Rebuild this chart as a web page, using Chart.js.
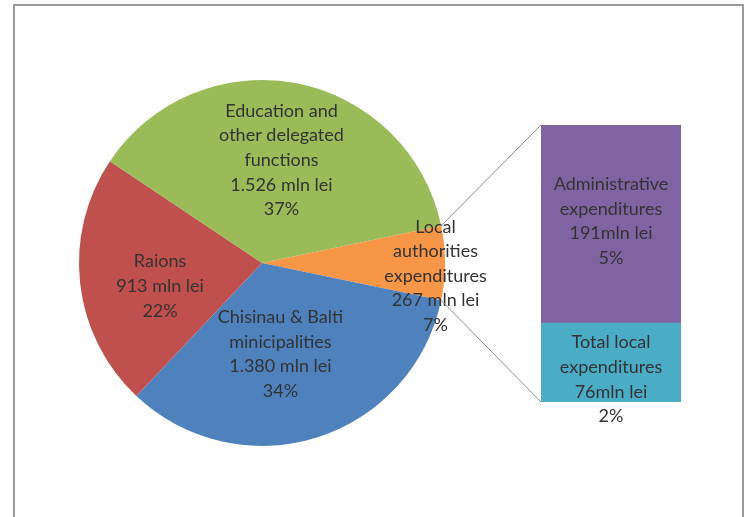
<!DOCTYPE html>
<html>
<head>
<meta charset="utf-8">
<script src="https://cdn.jsdelivr.net/npm/chart.js@4.4.1/dist/chart.umd.min.js"></script>
<style>
  html, body { margin: 0; padding: 0; background: #fff; overflow: hidden; }
  #wrap { position: relative; width: 749px; height: 517px; }
  #frame { position: absolute; left: 13px; top: 4px; width: 731px; height: 560px;
           border: 2px solid #9a9a9a; box-sizing: border-box; }
  canvas { position: absolute; left: 0; top: 0; }
</style>
</head>
<body>
<div id="wrap">
  <div id="frame"></div>
  <canvas id="pie" width="749" height="517"></canvas>
  <canvas id="bar" width="749" height="517"></canvas>
</div>
<script>
// Pie slices, clockwise starting with the slice that is broken out into the bar
const pieCategories = [
  ['Local', 'authorities', 'expenditures'],
  ['Chisinau & Balti', 'minicipalities'],
  ['Raions'],
  ['Education and', 'other delegated', 'functions']
];
const pieValues = [267, 1380, 913, 1526];           // mln lei
const pieColors = ['#F79646', '#4F81BD', '#C0504D', '#9BBB59'];

// Breakdown of the local authorities slice (bottom segment first)
const barCategories = [
  ['Total local', 'expenditures'],
  ['Administrative', 'expenditures']
];
const barValues = [76, 191];                       // mln lei
const barColors = ['#4BACC6', '#8064A2'];

// Label placement relative to each mark's centre (px)
const pieLabelShift = [{dx: 82, dy: 13}, {dx: -9, dy: 4}, {dx: -11, dy: 13}, {dx: 2, dy: -13}];
const barLabelShift = [{dx: 0, dy: 17}, {dx: 0, dy: -3}];

const FONT = '18px Lato, "Open Sans", sans-serif';
const TEXT = '#333333';
const LINE_H = 24.6;

const grandTotal = pieValues.reduce((a, b) => a + b, 0);
const pct = v => Math.round(v / grandTotal * 100) + '%';
const thousands = v => String(v).replace(/\B(?=(\d{3})+(?!\d))/g, '.');

function drawBlock(ctx, lines, x, y) {
  ctx.save();
  ctx.font = FONT;
  ctx.fillStyle = TEXT;
  ctx.textAlign = 'center';
  ctx.textBaseline = 'middle';
  const top = y - (lines.length - 1) * LINE_H / 2;
  lines.forEach((t, i) => ctx.fillText(t, x, top + i * LINE_H));
  ctx.restore();
}

// Start the first slice so that it is centred on the 3 o'clock direction
const firstSliceDeg = pieValues[0] / grandTotal * 360;

const pieLabels = {
  id: 'pieLabels',
  afterDatasetsDraw(chart) {
    const ctx = chart.ctx;
    chart.getDatasetMeta(0).data.forEach((arc, i) => {
      const mid = (arc.startAngle + arc.endAngle) / 2;
      const r = arc.outerRadius / 2;
      const x = arc.x + Math.cos(mid) * r + pieLabelShift[i].dx;
      const y = arc.y + Math.sin(mid) * r + pieLabelShift[i].dy;
      const lines = pieCategories[i].concat([thousands(pieValues[i]) + ' mln lei', pct(pieValues[i])]);
      drawBlock(ctx, lines, x, y);
    });
  }
};

const pieChart = new Chart(document.getElementById('pie'), {
  type: 'pie',
  data: {
    labels: pieCategories.map(l => l.join(' ')),
    datasets: [{ data: pieValues, backgroundColor: pieColors, borderWidth: 0, hoverOffset: 0 }]
  },
  options: {
    responsive: false,
    animation: false,
    events: [],
    rotation: 90 - firstSliceDeg / 2,
    layout: { padding: { left: 79, top: 80, right: 304, bottom: 71 } },
    plugins: { legend: { display: false }, tooltip: { enabled: false } }
  },
  plugins: [pieLabels]
});

const barLabelsAndLinks = {
  id: 'barLabelsAndLinks',
  afterDatasetsDraw(chart) {
    const ctx = chart.ctx;
    const bottomSeg = chart.getDatasetMeta(0).data[0];
    const topSeg = chart.getDatasetMeta(barValues.length - 1).data[0];
    const left = topSeg.x - topSeg.width / 2;

    // connector lines from the broken-out slice to the bar
    const arc = pieChart.getDatasetMeta(0).data[0];
    const p1 = { x: arc.x + Math.cos(arc.startAngle) * arc.outerRadius,
                 y: arc.y + Math.sin(arc.startAngle) * arc.outerRadius };
    const p2 = { x: arc.x + Math.cos(arc.endAngle) * arc.outerRadius,
                 y: arc.y + Math.sin(arc.endAngle) * arc.outerRadius };
    ctx.save();
    ctx.strokeStyle = '#8c8c8c';
    ctx.lineWidth = 1;
    ctx.beginPath();
    ctx.moveTo(p1.x, p1.y); ctx.lineTo(left, topSeg.y);
    ctx.moveTo(p2.x, p2.y); ctx.lineTo(left, bottomSeg.base);
    ctx.stroke();
    ctx.restore();

    barValues.forEach((v, i) => {
      const el = chart.getDatasetMeta(i).data[0];
      const x = el.x + barLabelShift[i].dx;
      const y = (el.y + el.base) / 2 + barLabelShift[i].dy;
      drawBlock(ctx, barCategories[i].concat([v + 'mln lei', pct(v)]), x, y);
    });
  }
};

new Chart(document.getElementById('bar'), {
  type: 'bar',
  data: {
    labels: [''],
    datasets: barValues.map((v, i) => ({
      label: barCategories[i].join(' '),
      data: [v],
      backgroundColor: barColors[i],
      borderWidth: 0,
      barPercentage: 1,
      categoryPercentage: 1
    }))
  },
  options: {
    responsive: false,
    animation: false,
    events: [],
    layout: { padding: { left: 541, top: 125, right: 68, bottom: 115 } },
    scales: {
      x: { stacked: true, display: false },
      y: { stacked: true, display: false, min: 0, max: barValues.reduce((a, b) => a + b, 0) }
    },
    plugins: { legend: { display: false }, tooltip: { enabled: false } }
  },
  plugins: [barLabelsAndLinks]
});
</script>
</body>
</html>
